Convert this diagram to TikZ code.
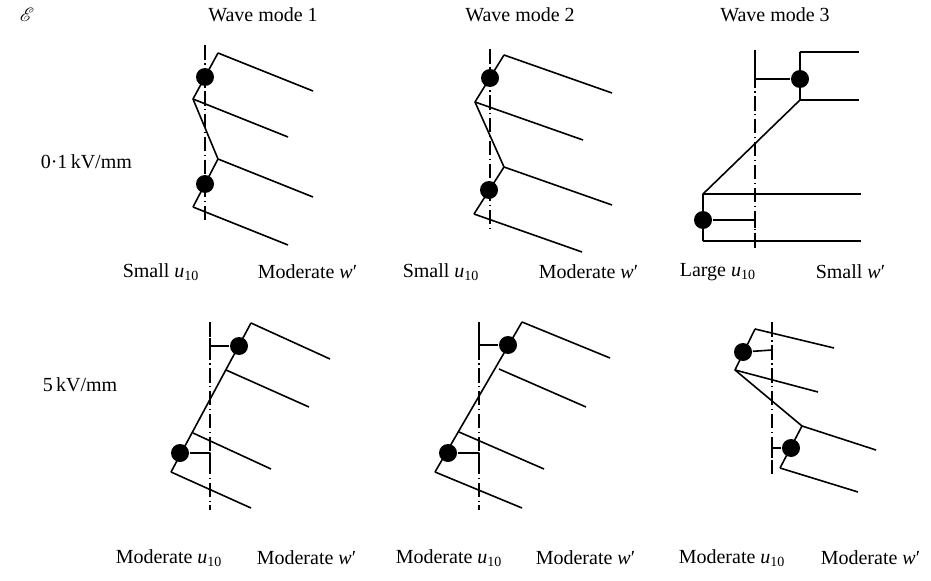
\documentclass[tikz,border=0pt]{standalone}
\usepackage{fontspec}
\setmainfont{Liberation Serif}
\usepackage{mathrsfs}
\newcommand{\uten}{\textit{u}\textsubscript{10}}
\newcommand{\wpr}{\textit{w}′}

\begin{document}
\begin{tikzpicture}[x=0.75pt, y=-0.75pt, line width=1.2pt, line join=round,
  axe/.style={line width=1.2pt, dash pattern=on 11pt off 2.5pt on 1.2pt off 2.5pt},
  bille/.style={circle, fill=black, inner sep=0pt, minimum size=13.5pt},
  lab/.style={font=\fontsize{15}{18}\selectfont, inner sep=0pt}]
  \useasboundingbox (0,0) rectangle (931,581);

  % Titres
  \node[lab] (eps) at (27,15) {$\mathscr{E}$};
  \foreach \x/\m in {263/1,520/2,775/3}
    \node[lab] (mode\m) at (\x,15) {Wave mode \m};
  \node[lab, anchor=west] (champA) at (40,162) {0·1\,kV/mm};
  \node[lab, anchor=west] (champB) at (42,385) {5\,kV/mm};

  % Mode 1, 0.1 kV/mm
  \draw[axe] (205,45) -- (205,220);
  \coordinate (p1a) at (218,53);
  \coordinate (p1b) at (193,99);
  \coordinate (p1c) at (218,159);
  \coordinate (p1d) at (193,207);
  \draw (p1a) -- (p1b) -- (p1c) -- (p1d);
  \foreach \c in {p1a,p1b,p1c,p1d}
    \draw (\c) -- ++(95,38);
  \node[bille] (b1h) at (205,77) {};
  \node[bille] (b1b) at (205,184) {};

  % Mode 2, 0.1 kV/mm
  \draw[axe] (490,49) -- (490,232);
  \coordinate (p2a) at (504,55);
  \coordinate (p2b) at (475,102);
  \coordinate (p2c) at (504,167);
  \coordinate (p2d) at (474,214);
  \draw (p2a) -- (p2b) -- (p2c) -- (p2d);
  \foreach \c in {p2a,p2b,p2c,p2d}
    \draw (\c) -- ++(108,38);
  \node[bille] (b2h) at (490,78) {};
  \node[bille] (b2b) at (489,190) {};

  % Mode 3, 0.1 kV/mm
  \draw[axe] (755,50) -- (755,250);
  \coordinate (p3a) at (800,52);
  \coordinate (p3b) at (800,100);
  \coordinate (p3c) at (703,194);
  \coordinate (p3d) at (703,241);
  \draw (p3a) -- (p3b) -- (p3c) -- (p3d);
  \foreach \c/\dx in {p3a/59,p3b/59,p3c/158,p3d/158}
    \draw (\c) -- ++(\dx,0);
  \node[bille] (b3h) at (800,79) {};
  \node[bille] (b3b) at (703,220) {};
  \coordinate (x3h) at (755,79);
  \coordinate (x3b) at (755,220);
  \draw (b3h) -- (x3h) -- ++(0,-19);
  \draw (b3b) -- (x3b) -- ++(0,8);

  % Mode 1, 5 kV/mm
  \draw[axe] (210,322) -- (210,510);
  \coordinate (p4a) at (251,323);
  \coordinate (p4b) at (226,370);
  \coordinate (p4c) at (193,433);
  \coordinate (p4d) at (171,472);
  \draw (p4a) -- (p4d);
  \foreach \c/\dx/\dy in {p4a/79/36,p4b/83/37,p4c/78/36,p4d/80/36}
    \draw (\c) -- ++(\dx,\dy);
  \node[bille] (b4h) at (239,346) {};
  \node[bille] (b4b) at (180,453) {};
  \coordinate (x4h) at (210,346);
  \coordinate (x4b) at (210,453);
  \draw (b4h) -- (x4h) -- ++(0,-8);
  \draw (b4b) -- (x4b) -- ++(0,8);

  % Mode 2, 5 kV/mm
  \draw[axe] (479,322) -- (479,510);
  \coordinate (p5a) at (522,322);
  \coordinate (p5b) at (499,369);
  \coordinate (p5c) at (459,432);
  \coordinate (p5d) at (435,472);
  \draw (p5a) -- (p5d);
  \foreach \c/\dx/\dy in {p5a/88/36,p5b/87/38,p5c/85/37,p5d/87/36}
    \draw (\c) -- ++(\dx,\dy);
  \node[bille] (b5h) at (508,345) {};
  \node[bille] (b5b) at (448,453) {};
  \coordinate (x5h) at (479,345);
  \coordinate (x5b) at (479,453);
  \draw (b5h) -- (x5h) -- ++(0,-8);
  \draw (b5b) -- (x5b) -- ++(0,8);

  % Mode 3, 5 kV/mm
  \draw[axe] (772,322) -- (772,477);
  \coordinate (p6a) at (755,329);
  \coordinate (p6b) at (735,370);
  \coordinate (p6c) at (802,426);
  \coordinate (p6d) at (780,468);
  \draw (p6a) -- (p6b) -- (p6c) -- (p6d);
  \foreach \c/\dx/\dy in {p6a/79/19,p6b/83/22,p6c/74/24,p6d/78/24}
    \draw (\c) -- ++(\dx,\dy);
  \node[bille] (b6h) at (743,352) {};
  \node[bille] (b6b) at (791,448) {};
  \coordinate (x6h) at (772,350);
  \coordinate (x6b) at (772,448);
  \draw (b6h) -- (x6h) -- ++(0,-5);
  \draw (b6b) -- (x6b) -- ++(0,10);

  % Legendes
  \foreach \x/\t [count=\i] in {122/Small \uten, 257/Moderate \wpr, 402/Small \uten,
      538/Moderate \wpr, 679/Large \uten, 815/Small \wpr}
    \node[lab, anchor=west] (hleg\i) at (\x,272) {\t};
  \foreach \x/\t [count=\i] in {115/Moderate \uten, 256/Moderate \wpr, 395/Moderate \uten,
      535/Moderate \wpr, 678/Moderate \uten, 820/Moderate \wpr}
    \node[lab, anchor=west] (bleg\i) at (\x,558) {\t};
\end{tikzpicture}
\end{document}
